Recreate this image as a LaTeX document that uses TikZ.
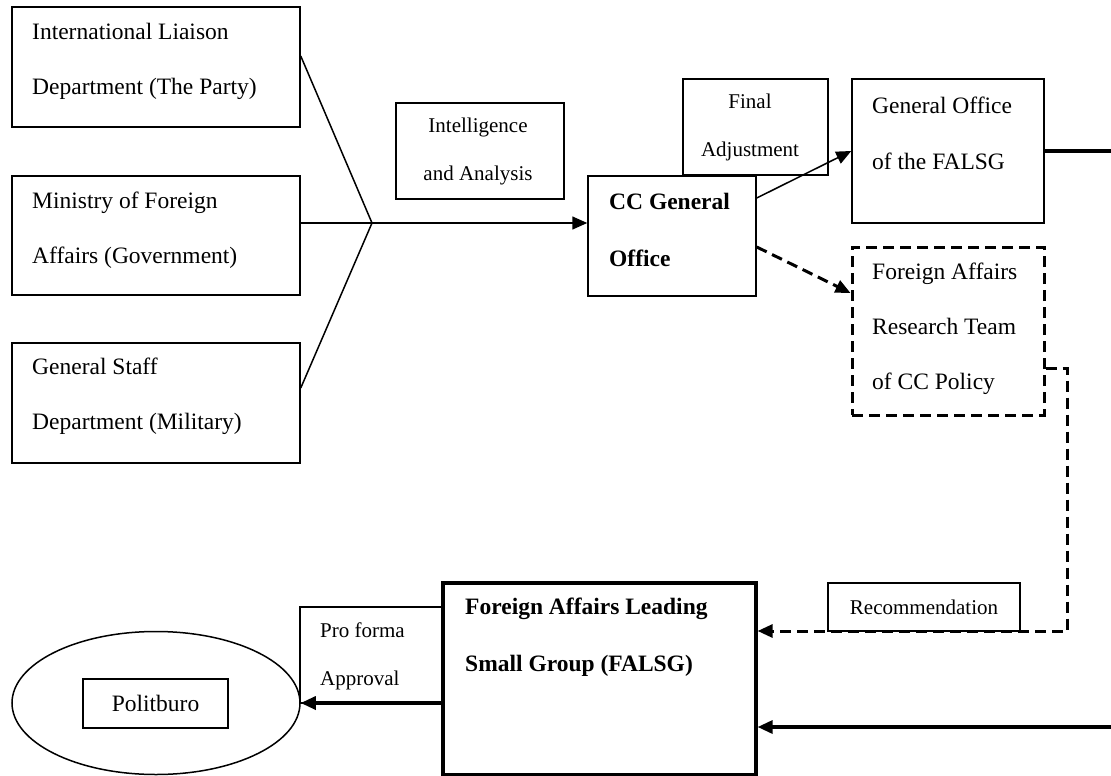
\documentclass[tikz,border=0pt]{standalone}
\usepackage{fontspec}
\setmainfont{Liberation Serif}
\usetikzlibrary{arrows.meta,shapes.geometric}
\begin{document}
\begin{tikzpicture}[x=1pt,y=-1pt,
  box/.style={draw,line width=1.5pt,inner sep=0pt},
  thickbox/.style={draw,line width=3.2pt,inner sep=0pt},
  dbox/.style={draw,line width=3pt,dash pattern=on 11pt off 6pt,inner sep=0pt},
  txt/.style={inner sep=0pt,align=left,font=\fontsize{23.5}{55}\selectfont},
  btxt/.style={inner sep=0pt,align=left,font=\fontsize{23.5}{57}\selectfont\bfseries},
  stxt/.style={inner sep=0pt,align=center,font=\fontsize{21}{48}\selectfont},
  thinline/.style={line width=1.5pt},
  thickline/.style={line width=3.2pt},
  dline/.style={line width=3pt,dash pattern=on 11pt off 6pt},
  tip/.style={-{Triangle[length=15pt,width=13pt]}}
]
\useasboundingbox (0,0) rectangle (1111,776);

% left source boxes
\node[box,minimum width=288pt,minimum height=120pt] (ild) at (156,67) {};
\node[txt,anchor=west] (ildt) at (32,61.5) {International Liaison\\Department (The Party)};
\node[box,minimum width=288pt,minimum height=119pt] (mfa) at (156,235.5) {};
\node[txt,anchor=west] (mfat) at (32,230.5) {Ministry of Foreign\\Affairs (Government)};
\node[box,minimum width=288pt,minimum height=120pt] (gsd) at (156,403) {};
\node[txt,anchor=west] (gsdt) at (32,396.5) {General Staff\\Department (Military)};

% intelligence label
\node[box,minimum width=168pt,minimum height=96pt] (intel) at (480,151) {};
\node[stxt] (intelt) at (478,151) {Intelligence\\and Analysis};

% CC General Office
\node[box,minimum width=168pt,minimum height=120pt] (cc) at (672,236) {};
\node[btxt,anchor=west] (cct) at (609,229.5) {CC General\\Office};

% Final adjustment
\node[box,minimum width=145pt,minimum height=96pt] (fin) at (755.5,127) {};
\node[stxt] (fint) at (750,127.5) {Final\\Adjustment};

% General Office of the FALSG
\node[box,minimum width=192pt,minimum height=144pt] (gof) at (948,151) {};
\node[txt,anchor=west,font=\fontsize{23.5}{56}\selectfont] (goft) at (872,133) {General Office\\of the FALSG};

% Research team (dashed)
\node[dbox,minimum width=192pt,minimum height=168pt] (fart) at (948,331) {};
\node[txt,anchor=west] (fartt) at (872,329) {Foreign Affairs\\Research Team\\of CC Policy};

% FALSG
\node[thickbox,minimum width=313pt,minimum height=192pt] (falsg) at (599.5,679) {};
\node[btxt,anchor=west] (falsgt) at (465,637.5) {Foreign Affairs Leading\\Small Group (FALSG)};

% Recommendation
\node[box,minimum width=192pt,minimum height=48pt,font=\fontsize{21}{24}\selectfont] (rec) at (924,607) {Recommendation};

% Pro forma approval
\node[box,minimum width=143pt,minimum height=96pt] (pro) at (371.5,655) {};
\node[stxt,align=left,anchor=west] (prot) at (320,656) {Pro forma\\Approval};

% Politburo
\node[ellipse,draw,line width=1.5pt,minimum width=288pt,minimum height=143pt,inner sep=0pt] (pb) at (156,703) {};
\node[box,minimum width=145pt,minimum height=49pt,font=\fontsize{23.5}{28}\selectfont] (pol) at (155.5,703.5) {Politburo};

% connectors
\coordinate (j) at (372,223);
\coordinate (edgeTop) at (1111,151);
\coordinate (edgeBot) at (1111,727);
\coordinate (dcorner1) at (1067,368);
\coordinate (dcorner2) at (1067,631);

\draw[thinline] ([yshift=11pt]ild.east) -- (j);
\draw[thinline] ([yshift=12.5pt]mfa.east) -- (j);
\draw[thinline] ([yshift=15pt]gsd.east) -- (j);
\draw[thinline,tip] (j) -- ([yshift=13pt]cc.west);
\draw[thinline,tip] ([yshift=38pt]cc.east) -- (gof.west);
\draw[dline,tip] ([yshift=-11pt]cc.east) -- ([yshift=38pt]fart.west);
\draw[thickline] (gof.east) -- (edgeTop);
\draw[dline,tip] ([yshift=-37pt]fart.east) -- (dcorner1) -- (dcorner2) -- ([yshift=48pt]falsg.east);
\draw[thickline,tip] (edgeBot) -- ([yshift=-48pt]falsg.east);
\draw[thickline,tip] ([yshift=-24pt]falsg.west) -- (pb.east);
\end{tikzpicture}
\end{document}
